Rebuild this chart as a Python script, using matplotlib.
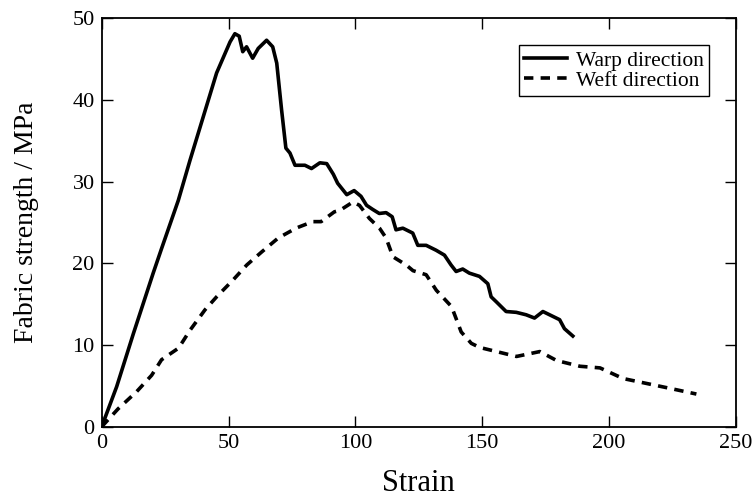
import matplotlib
matplotlib.use("Agg")
import matplotlib.pyplot as plt

plt.rcParams['font.family'] = ['Liberation Serif', 'DejaVu Serif']

# warp direction curve
warp_strain = [0, 5.9, 12.5, 20.3, 23.6, 30.2, 34.8, 45.3, 50.6, 52.5, 54.2, 55.6, 57.1,
               59.5, 61.7, 65.0, 67.4, 69.0, 70.9, 72.6, 74.2, 76.2, 80.1, 82.7, 86.0,
               88.7, 91.3, 93.0, 96.6, 99.5, 102.2, 104.4, 106.8, 109.4, 112.1, 114.5,
               116.0, 118.7, 122.6, 124.6, 127.9, 131.8, 135.1, 137.7, 139.7, 142.3,
               144.9, 148.9, 152.2, 153.5, 155.5, 159.4, 163.4, 167.3, 170.6, 173.9,
               177.2, 180.5, 182.4, 185.7]
warp_stress = [0, 4.9, 11.4, 18.8, 21.8, 27.7, 32.6, 43.3, 47.1, 48.1, 47.8, 45.9, 46.5,
               45.1, 46.3, 47.3, 46.5, 44.5, 38.8, 34.1, 33.5, 32.0, 32.0, 31.6, 32.3,
               32.2, 30.9, 29.8, 28.4, 28.9, 28.2, 27.1, 26.6, 26.1, 26.2, 25.7,
               24.1, 24.3, 23.7, 22.2, 22.2, 21.6, 21.0, 19.8, 19.0, 19.3,
               18.8, 18.4, 17.5, 15.9, 15.3, 14.1, 14.0, 13.7, 13.3, 14.1,
               13.6, 13.1, 12.0, 11.1]

# weft direction curve
weft_strain = [0, 6.5, 13.8, 19.7, 23.6, 30.2, 31.5, 34.8, 40.7, 45.3, 51.9, 57.2, 63.1,
               69.6, 76.6, 78.2, 83.2, 86.5, 91.7, 94.0, 99.0, 101.6, 105.5, 109.5, 112.1,
               114.8, 120.0, 122.7, 127.9, 131.9, 137.9, 141.7, 145.7, 149.0, 155.6,
               163.5, 172.7, 179.3, 188.5, 196.4, 205.5, 214.7, 223.9, 234.4]
weft_stress = [0, 2.2, 4.3, 6.3, 8.2, 9.6, 10.2, 11.8, 14.3, 15.9, 18.0, 19.8, 21.4,
               23.1, 24.3, 24.5, 25.1, 25.1, 26.3, 26.5, 27.5, 27.1, 25.5, 24.3, 23.1,
               20.8, 19.8, 19.1, 18.6, 16.7, 14.7, 11.6, 10.2, 9.7, 9.2,
               8.6, 9.2, 8.1, 7.4, 7.2, 5.9, 5.3, 4.7, 4.0]

fig = plt.figure(figsize=(7.56, 4.97), dpi=100)
ax = fig.add_axes([0.1345, 0.1414, 0.839, 0.822])

ax.plot(warp_strain, warp_stress, color='black', lw=2.6, label='Warp direction')
ax.plot(weft_strain, weft_stress, color='black', lw=2.6, dashes=(2.6, 2.0),
        label='Weft direction')

ax.set_xlim(0, 250)
ax.set_ylim(0, 50)
ax.set_xticks([0, 50, 100, 150, 200, 250])
ax.set_yticks([0, 10, 20, 30, 40, 50])
ax.tick_params(direction='in', length=8, width=1, top=True, right=True,
               labelsize=16, pad=5)
for sp in ax.spines.values():
    sp.set_linewidth(1.3)

ax.set_xlabel('Strain', fontsize=22, labelpad=12)
ax.set_ylabel('Fabric strength / MPa', fontsize=20, labelpad=24)

leg = ax.legend(loc='upper right', bbox_to_anchor=(0.958, 0.934), borderaxespad=0,
                fontsize=15.5, fancybox=False, edgecolor='black', framealpha=1,
                handlelength=2.0, handletextpad=0.4, labelspacing=0.0, borderpad=0.25)
leg.get_frame().set_linewidth(1.0)

fig.savefig('out.png', dpi=100)
